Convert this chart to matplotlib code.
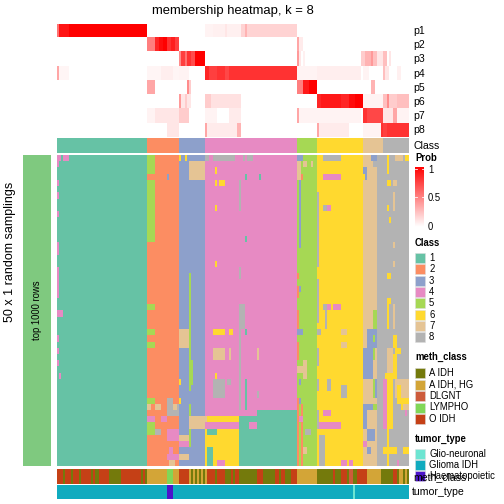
import matplotlib
matplotlib.use('Agg')
import matplotlib.pyplot as plt
import numpy as np
from matplotlib.colors import ListedColormap, LinearSegmentedColormap
from matplotlib.patches import Rectangle

plt.rcParams['font.family'] = ['Liberation Sans', 'DejaVu Sans']

# ---- data ----
class_names = ['1', '2', '3', '4', '5', '6', '7', '8']
class_colors = ['#66C2A5', '#FC8D62', '#8DA0CB', '#E78AC3',
                '#A6D854', '#FFD92F', '#E5C494', '#B3B3B3']
class_counts = [45, 16, 13, 46, 10, 23, 10, 13]
n_rows = 50

# membership probabilities: (first column, end column, value) per class row
membership = [
    [(0, 1, 0.55), (1, 6, 0.92), (6, 45, 1.0), (74, 78, 0.05), (78, 92, 0.06),
     (84, 85, 0.1), (92, 120, 0.17), (94, 95, 0.3)],
    [(45, 49, 0.5), (49, 51, 0.85), (51, 53, 0.95), (53, 55, 1.0), (55, 57, 0.8),
     (57, 59, 0.88), (59, 61, 0.75), (120, 121, 0.35), (121, 123, 0.08)],
    [(61, 62, 0.45), (62, 64, 0.75), (64, 65, 0.55), (65, 67, 0.8), (67, 69, 0.7),
     (69, 74, 1.0), (120, 121, 0.4), (121, 122, 0.1), (123, 124, 0.06),
     (152, 154, 0.2), (154, 157, 0.3), (157, 158, 0.4), (158, 160, 0.25),
     (160, 163, 0.1), (163, 165, 0.25), (166, 167, 0.1)],
    [(0, 1, 0.35), (1, 6, 0.04), (45, 61, 0.04), (52, 58, 0.07), (61, 66, 0.05),
     (74, 76, 0.85), (76, 80, 0.75), (80, 84, 0.8), (84, 86, 0.72), (86, 90, 0.8),
     (90, 120, 0.8), (120, 130, 0.05), (130, 152, 0.07), (153, 156, 0.05),
     (163, 164, 0.25), (164, 166, 0.1), (170, 172, 0.06)],
    [(45, 49, 0.35), (65, 66, 0.45), (66, 67, 0.2), (120, 123, 0.5),
     (123, 126, 0.9), (126, 130, 1.0), (157, 159, 0.3)],
    [(61, 62, 0.4), (62, 67, 0.1), (64, 65, 0.2), (74, 92, 0.12), (74, 77, 0.2),
     (130, 132, 0.85), (132, 142, 0.9), (142, 146, 0.85), (146, 149, 0.95),
     (149, 153, 1.0), (153, 163, 0.05), (163, 165, 0.25), (165, 166, 0.45),
     (166, 170, 0.2), (170, 176, 0.25)],
    [(45, 61, 0.05), (49, 61, 0.1), (61, 66, 0.2), (74, 80, 0.05), (86, 92, 0.08),
     (120, 121, 0.35), (121, 130, 0.05), (130, 152, 0.05), (153, 163, 0.72),
     (153, 155, 0.8), (163, 170, 0.1), (168, 170, 0.35), (170, 176, 0.05)],
    [(55, 61, 0.1), (74, 75, 0.35), (75, 90, 0.08), (90, 92, 0.3), (130, 131, 0.35),
     (131, 146, 0.08), (153, 162, 0.05), (162, 176, 0.8), (163, 165, 0.75)],
]

# class calls of the 50 samplings: base = column class, then these blocks
# (first row, end row, first column, end column, class)
main_flips = [
    (0, 1, 0, 2, 4), (0, 1, 3, 6, 4), (1, 2, 0, 1, 4), (4, 5, 0, 1, 4), (6, 7, 0, 1, 4),
    (9, 10, 0, 1, 4), (14, 16, 0, 1, 4), (18, 23, 0, 1, 4), (25, 26, 0, 3, 4),
    (29, 30, 0, 1, 4), (31, 32, 0, 1, 4), (33, 34, 0, 1, 4), (35, 36, 1, 2, 4),
    (0, 3, 45, 49, 5), (4, 14, 45, 49, 5), (3, 4, 55, 56, 3), (24, 25, 45, 49, 5),
    (28, 29, 45, 49, 5), (30, 31, 45, 49, 5), (39, 40, 45, 49, 5), (39, 40, 55, 58, 8),
    (40, 42, 55, 61, 8), (40, 41, 45, 47, 7), (40, 41, 49, 52, 7), (40, 41, 58, 60, 7),
    (42, 43, 45, 49, 4), (42, 43, 52, 55, 4), (43, 45, 45, 49, 5), (44, 45, 49, 52, 8),
    (44, 46, 55, 61, 4), (47, 48, 56, 58, 4), (48, 49, 55, 61, 4), (49, 50, 56, 59, 7),
    (0, 1, 61, 62, 6), (0, 1, 64, 65, 6), (1, 4, 66, 74, 7), (19, 28, 66, 67, 5),
    (28, 31, 61, 66, 7), (28, 38, 66, 67, 5), (33, 37, 67, 68, 5), (36, 37, 61, 62, 6),
    (39, 40, 61, 62, 6), (40, 47, 66, 67, 5), (42, 44, 66, 74, 7), (45, 46, 61, 66, 7),
    (46, 47, 61, 66, 4), (48, 49, 61, 66, 7),
    (0, 1, 74, 76, 8), (0, 1, 78, 89, 8), (0, 1, 93, 94, 8), (0, 1, 95, 98, 8),
    (2, 3, 79, 80, 6), (4, 5, 79, 80, 6), (4, 5, 81, 84, 6), (8, 9, 79, 80, 6),
    (17, 18, 79, 80, 6), (3, 4, 94, 95, 1), (3, 4, 101, 102, 1), (13, 14, 94, 95, 1),
    (4, 9, 91, 92, 8), (18, 20, 91, 92, 8), (24, 28, 91, 94, 8), (28, 41, 91, 92, 8),
    (28, 29, 94, 95, 1), (36, 41, 94, 95, 1), (28, 29, 78, 84, 6), (28, 29, 86, 88, 6),
    (31, 33, 78, 84, 7), (31, 33, 86, 87, 7), (31, 33, 100, 101, 7), (35, 36, 79, 80, 6),
    (36, 39, 78, 84, 8), (36, 37, 85, 87, 8), (38, 39, 100, 101, 8),
    (41, 42, 100, 120, 1), (42, 43, 74, 75, 7), (42, 43, 75, 91, 6), (42, 50, 91, 120, 1),
    (43, 44, 74, 91, 4), (43, 44, 96, 100, 4), (44, 50, 74, 91, 6), (44, 45, 75, 80, 1),
    (47, 50, 75, 78, 1), (49, 50, 80, 84, 4),
    (0, 1, 120, 123, 3), (1, 4, 120, 122, 7), (1, 2, 123, 125, 7), (1, 2, 127, 128, 7),
    (3, 4, 122, 123, 2), (4, 15, 121, 122, 3), (19, 20, 120, 121, 2), (21, 23, 120, 121, 2),
    (21, 22, 121, 122, 3), (25, 29, 120, 121, 2), (28, 29, 120, 123, 3), (30, 33, 120, 121, 2),
    (33, 36, 123, 125, 7), (34, 35, 120, 123, 7), (36, 37, 121, 122, 3), (39, 40, 121, 122, 3),
    (39, 50, 120, 121, 2), (40, 50, 122, 123, 2), (42, 43, 121, 123, 4), (44, 45, 124, 127, 8),
    (47, 48, 123, 125, 7),
    (0, 1, 133, 142, 8), (3, 4, 133, 142, 4), (6, 18, 130, 131, 8), (8, 9, 133, 135, 8),
    (8, 9, 135, 137, 4), (20, 27, 130, 131, 8), (24, 25, 133, 135, 8), (24, 25, 135, 137, 4),
    (24, 25, 138, 142, 4), (25, 28, 134, 135, 8), (28, 29, 130, 132, 8), (28, 29, 142, 145, 7),
    (30, 31, 142, 145, 7), (31, 34, 130, 131, 8), (36, 38, 130, 131, 8), (36, 38, 135, 137, 8),
    (37, 39, 142, 145, 8), (41, 42, 133, 137, 4), (41, 44, 130, 131, 8), (43, 44, 131, 142, 4),
    (45, 50, 131, 134, 8), (49, 50, 142, 145, 4), (49, 50, 146, 148, 4),
    (0, 2, 158, 163, 8), (0, 1, 157, 160, 3), (2, 4, 153, 155, 3), (3, 4, 153, 154, 6),
    (2, 28, 160, 163, 8), (25, 28, 158, 160, 5), (28, 50, 160, 163, 8), (28, 31, 155, 160, 3),
    (29, 30, 158, 159, 5), (31, 36, 153, 158, 3), (31, 36, 158, 160, 7), (31, 33, 158, 159, 5),
    (36, 39, 153, 158, 7), (36, 39, 158, 159, 5), (36, 39, 159, 160, 3), (40, 41, 153, 158, 3),
    (40, 41, 158, 160, 5), (41, 44, 153, 155, 3), (41, 44, 155, 160, 7), (44, 46, 155, 159, 3),
    (46, 47, 153, 155, 4), (47, 48, 155, 157, 3), (48, 50, 153, 158, 7),
    (0, 3, 165, 166, 6), (0, 1, 169, 173, 7), (0, 1, 174, 176, 6), (4, 5, 165, 167, 6),
    (4, 5, 168, 170, 7), (6, 9, 168, 169, 7), (8, 9, 165, 166, 6), (10, 11, 166, 167, 6),
    (14, 15, 168, 169, 7), (17, 18, 168, 169, 7), (19, 20, 165, 167, 6), (23, 24, 165, 167, 6),
    (24, 28, 165, 166, 6), (24, 28, 168, 169, 7), (29, 31, 168, 170, 6), (31, 32, 169, 172, 6),
    (31, 35, 165, 168, 7), (32, 35, 168, 170, 6), (35, 36, 164, 170, 6), (36, 39, 169, 176, 7),
    (37, 40, 170, 172, 6), (36, 44, 163, 165, 4), (36, 44, 165, 168, 6), (39, 41, 172, 176, 6),
    (40, 41, 173, 176, 7), (41, 42, 174, 175, 4), (44, 50, 165, 166, 6), (47, 48, 163, 170, 6),
    (47, 48, 173, 176, 6), (49, 50, 170, 171, 4),
]

meth_names = ['A IDH', 'A IDH, HG', 'DLGNT', 'LYMPHO', 'O IDH']
meth_colors = ['#747A0C', '#D3A537', '#CD5B3B', '#80D757', '#C54016']
meth_runs = [
    ('O IDH', 3), ('A IDH', 1), ('O IDH', 3), ('A IDH', 1), ('O IDH', 3), ('A IDH', 1),
    ('O IDH', 5), ('A IDH', 1), ('O IDH', 1), ('A IDH', 2), ('O IDH', 5), ('A IDH', 6),
    ('O IDH', 10), ('A IDH', 1), ('O IDH', 1), ('A IDH', 1), ('A IDH, HG', 10),
    ('LYMPHO', 3), ('A IDH, HG', 3), ('O IDH', 5),
    ('A IDH, HG', 1), ('A IDH', 1), ('A IDH, HG', 1), ('A IDH', 1), ('A IDH, HG', 1),
    ('A IDH', 1), ('A IDH, HG', 1), ('A IDH', 1), ('A IDH, HG', 1),
    ('O IDH', 4), ('A IDH', 1), ('O IDH', 4), ('A IDH', 3), ('O IDH', 1), ('A IDH', 1),
    ('O IDH', 2), ('A IDH', 9), ('O IDH', 3), ('A IDH', 6), ('O IDH', 2), ('A IDH', 1),
    ('O IDH', 2), ('A IDH', 3), ('O IDH', 3), ('A IDH, HG', 10), ('A IDH', 8), ('O IDH', 1),
    ('A IDH', 3), ('O IDH', 3), ('A IDH', 1), ('DLGNT', 2), ('A IDH', 2), ('O IDH', 5),
    ('A IDH, HG', 7), ('A IDH', 6), ('O IDH', 2), ('A IDH', 1), ('A IDH, HG', 2),
    ('A IDH', 1), ('A IDH, HG', 1), ('A IDH', 1),
]

tumor_names = ['Glio-neuronal', 'Glioma IDH', 'Haematopoietic']
tumor_colors = ['#6DE5D2', '#10ABBF', '#4C13CB']
tumor_runs = [('Glioma IDH', 55), ('Haematopoietic', 3), ('Glioma IDH', 90),
              ('Glio-neuronal', 1), ('Glioma IDH', 27)]

# ---- build matrices ----
n_cols = sum(class_counts)
col_class = np.repeat(np.arange(1, 9), class_counts)

prob = np.zeros((8, n_cols))
for k, segs in enumerate(membership):
    for c0, c1, v in segs:
        prob[k, c0:c1] = v

main = np.tile(col_class, (n_rows, 1))
for r0, r1, c0, c1, cls in main_flips:
    main[r0:r1, c0:c1] = cls

meth = np.concatenate([[meth_names.index(m)] * n for m, n in meth_runs])
tumor = np.concatenate([[tumor_names.index(t)] * n for t, n in tumor_runs])

# ---- figure, everything placed in pixel coordinates ----
W = H = 504
fig = plt.figure(figsize=(7, 7), dpi=72)


def px_axes(x0, y0, x1, y1):
    ax = fig.add_axes([x0 / W, 1 - y1 / H, (x1 - x0) / W, (y1 - y0) / H])
    ax.set_axis_off()
    return ax


prob_cmap = LinearSegmentedColormap.from_list('prob', ['#FFFFFF', '#FF0000'])
class_cmap = ListedColormap(class_colors)
X0, X1 = 57, 409

ax = px_axes(X0, 24, X1, 137.5)
ax.imshow(prob, cmap=prob_cmap, vmin=0, vmax=1, aspect='auto', interpolation='nearest')

ax = px_axes(X0, 138, X1, 153)
ax.imshow(col_class[None, :], cmap=class_cmap, vmin=0.5, vmax=8.5, aspect='auto',
          interpolation='nearest')

ax = px_axes(X0, 155, X1, 466)
ax.imshow(main, cmap=class_cmap, vmin=0.5, vmax=8.5, aspect='auto', interpolation='nearest')

ax = px_axes(X0, 469, X1, 483.5)
ax.imshow(meth[None, :], cmap=ListedColormap(meth_colors), vmin=-0.5, vmax=4.5,
          aspect='auto', interpolation='nearest')

ax = px_axes(X0, 484.5, X1, 499)
ax.imshow(tumor[None, :], cmap=ListedColormap(tumor_colors), vmin=-0.5, vmax=2.5,
          aspect='auto', interpolation='nearest')

# colour bar of the probability legend
ax = px_axes(415, 167, 424, 227)
ax.imshow(np.linspace(1, 0, 100)[:, None], cmap=prob_cmap, vmin=0, vmax=1,
          aspect='auto')

# overlay for text and legend boxes
ov = fig.add_axes([0, 0, 1, 1], zorder=5)
ov.set_xlim(0, W)
ov.set_ylim(H, 0)
ov.set_axis_off()
ov.patch.set_alpha(0)

ov.add_patch(Rectangle((23, 155), 28, 311, color='#7FC97F', lw=0))
ov.text(37, 310, 'top 1000 rows', rotation=90, ha='center', va='center', fontsize=9.5)
ov.text(10, 252, '50 x 1 random samplings', rotation=90, ha='center', va='center',
        fontsize=12.5)
ov.text(233, 11, 'membership heatmap, k = 8', ha='center', va='center', fontsize=13)

row_h = (137.5 - 24) / 8
for k in range(8):
    ov.text(413, 24 + row_h * (k + 0.5), 'p%d' % (k + 1), ha='left', va='center',
            fontsize=10.5)
ov.text(413, 146, 'Class', ha='left', va='center', fontsize=10.5)
ov.text(413, 477, 'meth_class', ha='left', va='center', fontsize=10.5)
ov.text(412, 492, 'tumor_type', ha='left', va='center', fontsize=10.5)

# legends
ov.text(415, 158, 'Prob', ha='left', va='center', fontsize=9.5, fontweight='bold')
for v, y in [('1', 170), ('0.5', 198), ('0', 227)]:
    ov.text(428, y, v, ha='left', va='center', fontsize=9.5)
    ov.plot([415, 417], [y - 1, y - 1], color='white', lw=0.8)
    ov.plot([422, 424], [y - 1, y - 1], color='white', lw=0.8)


def legend_block(title, title_y, names, colors, first_y, step):
    ov.text(415, title_y, title, ha='left', va='center', fontsize=9.5, fontweight='bold')
    for i, (n, c) in enumerate(zip(names, colors)):
        y = first_y + i * step
        ov.add_patch(Rectangle((415, y - 5), 10, 10, facecolor=c, edgecolor='#DDDDDD',
                               lw=0.5))
        ov.text(429, y, n, ha='left', va='center', fontsize=9.5)


legend_block('Class', 243, class_names, class_colors, 258, 11.3)
legend_block('meth_class', 357, meth_names, meth_colors, 373, 11.5)
legend_block('tumor_type', 439, tumor_names, tumor_colors, 454, 11.2)

fig.savefig('out.png', dpi=72)
